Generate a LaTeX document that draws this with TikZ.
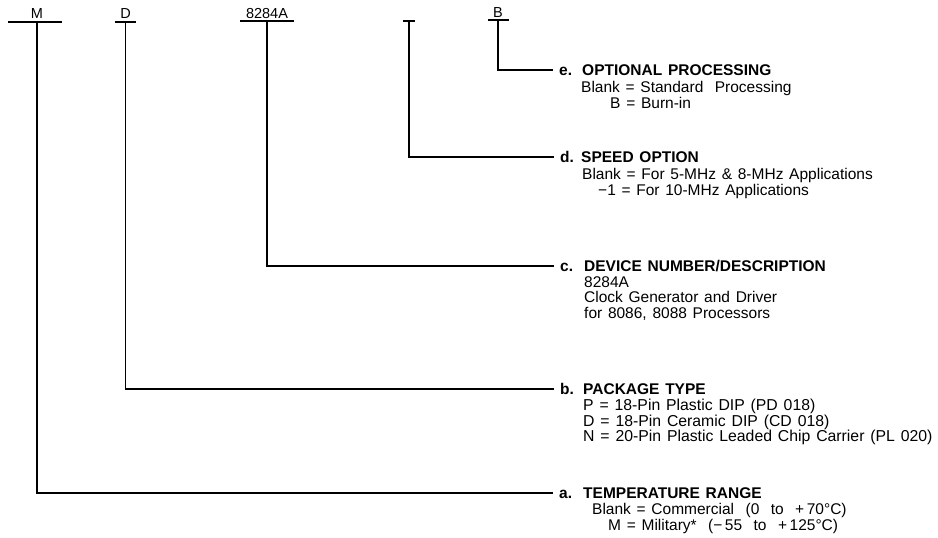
\documentclass[tikz,border=0pt]{standalone}
\usepackage{fontspec}
\setmainfont{Liberation Sans}[WordSpace=1.33]
\begin{document}
\begin{tikzpicture}[x=1pt,y=-1pt,
  ln/.style={line width=1.3pt, line cap=rect},
  toplbl/.style={font=\fontsize{14.5}{17}\selectfont, anchor=base, inner sep=0pt},
  letr/.style={font=\bfseries\fontsize{15.5}{17}\selectfont, anchor=west, inner xsep=7pt, inner ysep=0pt, text height=11pt, text depth=0pt},
  ttl/.style={font=\bfseries\fontsize{15.5}{17}\selectfont, anchor=base west, inner sep=0pt},
  body/.style={font=\fontsize{15.5}{17}\selectfont, anchor=base west, inner sep=0pt}]
\useasboundingbox (0,0) rectangle (938,538);
% top labels
\node[toplbl] (tM) at (37,19) {M};
\node[toplbl] (tD) at (125.5,19) {D};
\node[toplbl] (tC) at (267,18) {8284A};
\node[toplbl] (tB) at (498,17) {B};
% underlines
\coordinate (mL) at (9,22);  \coordinate (mR) at (61,22);  \coordinate (mM) at (37,22);
\coordinate (dL) at (116,22); \coordinate (dR) at (135,22); \coordinate (dM) at (125.5,22);
\coordinate (cL) at (241,21); \coordinate (cR) at (293,21); \coordinate (cM) at (267,21);
\coordinate (sL) at (404,21); \coordinate (sR) at (414,21); \coordinate (sM) at (409,21);
\coordinate (bL) at (489,20); \coordinate (bR) at (508,20); \coordinate (bM) at (498,20);
\draw[ln] (mL) -- (mR);
\draw[ln] (dL) -- (dR);
\draw[ln] (cL) -- (cR);
\draw[ln] (sL) -- (sR);
\draw[ln] (bL) -- (bR);
% e
\node[letr] (le) at (552,70) {e.};
\node[ttl] (te) at (582,75.5) {OPTIONAL PROCESSING};
\node[body] (e1) at (581,92) {Blank = Standard\ \ Processing};
\node[body] (e2) at (610,108) {B = Burn-in};
% d
\node[letr] (ld) at (553,157) {d.};
\node[ttl] (td) at (581,162.5) {SPEED OPTION};
\node[body] (d1) at (582,179) {Blank = For 5-MHz \& 8-MHz Applications};
\node[body] (d2) at (598,195) {\textminus1 = For 10-MHz Applications};
% c
\node[letr] (lc) at (553,266) {c.};
\node[ttl] (tc) at (584,271.5) {DEVICE NUMBER/DESCRIPTION};
\node[body] (c1) at (584,287) {8284A};
\node[body] (c2) at (584,302.5) {Clock Generator and Driver};
\node[body] (c3) at (584,318) {for 8086, 8088 Processors};
% b
\node[letr] (lb) at (553,389) {b.};
\node[ttl] (tb) at (583,394.5) {PACKAGE TYPE};
\node[body, font=\fontsize{15.8}{17}\selectfont] (b1) at (583,410.5) {P = 18-Pin Plastic DIP (PD 018)};
\node[body, font=\fontsize{15.8}{17}\selectfont] (b2) at (583,426) {D = 18-Pin Ceramic DIP (CD 018)};
\node[body, font=\fontsize{15.8}{17}\selectfont] (b3) at (583,441.5) {N = 20-Pin Plastic Leaded Chip Carrier (PL 020)};
% a
\node[letr] (la) at (552,493) {a.};
\node[ttl] (ta) at (583,498.5) {TEMPERATURE RANGE};
\node[body] (a1) at (592,514.5) {Blank = Commercial\ \ (0\ \ to\ \ +\,70°C)};
\node[body] (a2) at (608,530.5) {M = Military*\ \ (\textminus\,55\ \ to\ \ +\,125°C)};
% connectors
\draw[ln] (bM) |- (le.west);
\draw[ln] (sM) |- (ld.west);
\draw[ln] (cM) |- (lc.west);
\draw[ln] (dM) |- (lb.west);
\draw[ln] (mM) |- (la.west);
\end{tikzpicture}
\end{document}
